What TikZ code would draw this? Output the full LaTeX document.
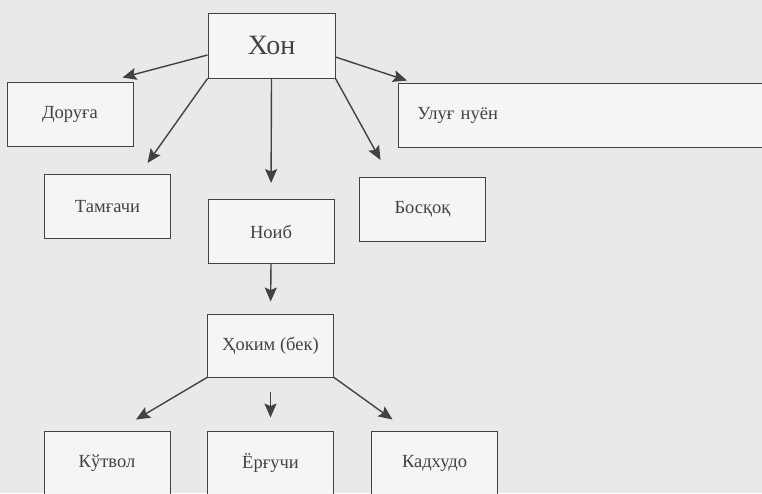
\documentclass[tikz,border=0pt]{standalone}
\usepackage{fontspec}
\setmainfont{Liberation Serif}
\usetikzlibrary{arrows.meta}

\definecolor{fond}{HTML}{E9E9E9}
\definecolor{trait}{HTML}{424242}

\tikzset{
  boite/.style={draw=trait, line width=0.9pt, fill=white!55!fond,
    minimum width=126pt, minimum height=64pt, inner sep=0pt,
    text=trait, font=\fontsize{18.5}{20}\selectfont},
  fleche/.style={-{Stealth[length=14pt,width=12pt,inset=2.5pt]},
    color=trait, line width=1.4pt},
}

\begin{document}
\begin{tikzpicture}[x=1pt,y=-1pt]
\clip (0,0) rectangle (762,493);
\fill [fond] (0,0) rectangle (762,493);

%% niveau 1
   \node [boite, minimum width=127pt, minimum height=65pt,
     font=\fontsize{28}{30}\selectfont] (xon) at (271.5,45.5) {Хон};

%% niveau 2
   \node [boite] (doruga) at (70,114) {Доруға};
   \node [boite, anchor=west, text width=342pt, inner xsep=19pt, align=left]
     (ulug) at (398,115) {Улуғ нуён};
   \node [boite] (tamg) at (107.5,206.5) {Тамғачи};
   \node [boite] (noib) at (271,231.5) {Ноиб};
   \node [boite] (bosq) at (422.5,209.5) {Босқоқ};

%% niveau 3
   \node [boite, minimum height=63pt] (hokim) at (270.5,345.5) {Ҳоким (бек)};

%% niveau 4
   \node [boite] (kutv) at (107,463) {Кўтвол};
   \node [boite] (yorg) at (270.5,463) {Ёрғучи};
   \node [boite] (kadx) at (434.5,463) {Кадхудо};

   %fleches du Хон
   \path [fleche] ([yshift=-9.5pt]xon.west) edge ([xshift=-11pt,yshift=4pt]doruga.north east);
   \path [fleche] (xon.south west) edge ([xshift=40pt,yshift=11pt]tamg.north);
   \path [fleche] (xon.south) edge [shorten >=16pt] (noib.north);
   \path [fleche] ([yshift=-11.5pt]xon.east) edge ([xshift=9pt,yshift=2pt]ulug.north west);
   \path [fleche] (xon.south east) edge ([xshift=-42pt,yshift=17pt]bosq.north);

   %fleches du bas
   \path [fleche] (noib.south) edge [shorten >=12pt] (hokim.north);
   \path [fleche] (hokim.south west) edge ([xshift=29pt,yshift=11pt]kutv.north);
   \path [fleche] (hokim.south) edge [shorten <=15pt, shorten >=13pt] (yorg.north);
   \path [fleche] (hokim.south east) edge ([xshift=-42pt,yshift=11pt]kadx.north);

\end{tikzpicture}
\end{document}
